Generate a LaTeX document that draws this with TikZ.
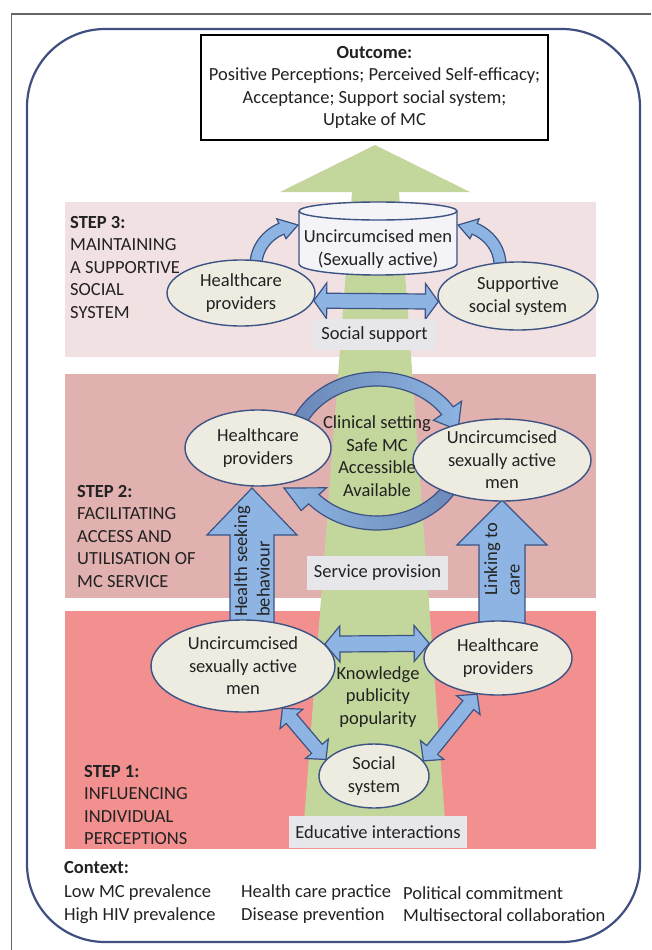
\documentclass[tikz,border=0pt]{standalone}
\usepackage{fontspec}
\setmainfont{Carlito}
\usetikzlibrary{shapes.geometric,calc}

\definecolor{frameblue}{HTML}{3F4F80}
\definecolor{bandthree}{HTML}{F2E1E2}
\definecolor{bandtwo}{HTML}{E0B1AF}
\definecolor{bandone}{HTML}{F28F8F}
\definecolor{leafgreen}{HTML}{C3D69B}
\definecolor{arrowblue}{HTML}{8DB4E2}
\definecolor{arrowdark}{HTML}{6A88B8}
\definecolor{edgeblue}{HTML}{3C5383}
\definecolor{cream}{HTML}{EEECE1}
\definecolor{labelgray}{HTML}{E7E6EB}
\definecolor{cylfill}{HTML}{F3F3F8}
\definecolor{ink}{HTML}{222222}

\tikzset{
  bubble/.style={ellipse, draw=edgeblue, line width=1.4pt, fill=cream, inner sep=0pt, align=center},
  blockarrow/.style={draw=edgeblue, line width=1.2pt, fill=arrowblue, line join=miter},
  tag/.style={fill=labelgray, inner sep=0pt},
  steptext/.style={anchor=west, align=left, inner sep=0pt},
}

% block arrows: #1 from, #2 to, #3 head length, #4 head half width, #5 shaft half width
\newcommand\dblarrow[5]{\draw[blockarrow] (#1) -- ($(#1)!#3!(#2)!#4!90:(#2)$) -- ($(#1)!#3!(#2)!#5!90:(#2)$)
  -- ($(#2)!#3!(#1)!#5!-90:(#1)$) -- ($(#2)!#3!(#1)!#4!-90:(#1)$) -- (#2)
  -- ($(#2)!#3!(#1)!#4!90:(#1)$) -- ($(#2)!#3!(#1)!#5!90:(#1)$)
  -- ($(#1)!#3!(#2)!#5!-90:(#2)$) -- ($(#1)!#3!(#2)!#4!-90:(#2)$) -- cycle;}
\newcommand\onearrow[5]{\draw[blockarrow] ($(#1)!#5!90:(#2)$) -- ($(#2)!#3!(#1)!#5!-90:(#1)$)
  -- ($(#2)!#3!(#1)!#4!-90:(#1)$) -- (#2) -- ($(#2)!#3!(#1)!#4!90:(#1)$)
  -- ($(#2)!#3!(#1)!#5!90:(#1)$) -- ($(#1)!#5!-90:(#2)$) -- cycle;}

\begin{document}
\begin{tikzpicture}[x=1pt,y=-1pt,font=\fontsize{18.5}{22.5}\selectfont,text=ink]
\useasboundingbox (0,0) rectangle (651,950);

% frame
\draw[line width=1.2pt,black!60] (11.7,950) -- (11.7,14) -- (651,14);
\draw[line width=2.2pt,frameblue,rounded corners=78pt] (27,29) rectangle (640,942);

\node[draw=black,line width=2pt,fill=white,minimum width=347pt,minimum height=105pt,align=center] (outcome) at (374.5,87.5)
  {\textbf{Outcome:}\\Positive Perceptions; Perceived Self-efficacy;\\Acceptance; Support social system;\\Uptake of MC};

% the three steps
\fill[bandthree] (65,202) rectangle (596,357);
\fill[bandtwo] (65,374) rectangle (596,598);
\fill[bandone] (65,611) rectangle (596,849);

\node[steptext] (step3) at (70,267) {\textbf{STEP 3:}\\MAINTAINING\\A SUPPORTIVE\\SOCIAL\\SYSTEM};
\node[steptext] (step2) at (77,536) {\textbf{STEP 2:}\\FACILITATING\\ACCESS AND\\UTILISATION OF\\MC SERVICE};
\node[steptext] (step1) at (84,805) {\textbf{STEP 1:}\\INFLUENCING\\INDIVIDUAL\\PERCEPTIONS};

\fill[leafgreen] (375,145) -- (470,192) -- (399,192) -- (447,848) -- (302,848) -- (352,192) -- (280,192) -- cycle;

% step 2 up arrows
\coordinate (hsFoot) at (252,632);
\coordinate (hsTip) at (252,488);
\coordinate (lcFoot) at (502,632);
\coordinate (lcTip) at (502,500);
\onearrow{hsFoot}{hsTip}{47pt}{45pt}{22pt}
\onearrow{lcFoot}{lcTip}{45pt}{45pt}{23pt}
\node[rotate=90,anchor=west,align=left,inner sep=0pt] (hsb) at (252,617) {Health seeking\\behaviour};
\node[rotate=90,anchor=west,align=left,inner sep=0pt] (ltc) at (502,596) {Linking to\\care};

% circular arrows round the clinical setting
\draw[blockarrow,left color=arrowdark,right color=arrowblue]
  plot[domain=155:34,samples=40] ({377+92*cos(\x)},{451-79*sin(\x)})
  -- ({377+102*cos(34)},{451-89*sin(34)}) -- (458,430) -- ({377+68*cos(34)},{451-55*sin(34)})
  -- plot[domain=34:155,samples=40] ({377+78*cos(\x)},{451-65*sin(\x)}) -- cycle;
\draw[blockarrow,left color=arrowblue,right color=arrowdark]
  plot[domain=-25:-138,samples=40] ({377+92*cos(\x)},{451-79*sin(\x)})
  -- ({377+102*cos(-138)},{451-89*sin(-138)}) -- (284,488) -- ({377+68*cos(-138)},{451-55*sin(-138)})
  -- plot[domain=-138:-25,samples=40] ({377+78*cos(\x)},{451-65*sin(\x)}) -- cycle;

% step 3 arrows up to the cylinder
\draw[blockarrow]
  plot[domain=185:115,samples=20] ({300+50*cos(\x)},{265-46*sin(\x)})
  -- ({300+55*cos(115)},{265-51*sin(115)}) -- (298,225) -- ({300+33*cos(115)},{265-29*sin(115)})
  -- plot[domain=115:185,samples=20] ({300+38*cos(\x)},{265-34*sin(\x)}) -- cycle;
\draw[blockarrow]
  plot[domain=-5:65,samples=20] ({456+50*cos(\x)},{265-46*sin(\x)})
  -- ({456+55*cos(65)},{265-51*sin(65)}) -- (458,225) -- ({456+33*cos(65)},{265-29*sin(65)})
  -- plot[domain=65:-5,samples=20] ({456+38*cos(\x)},{265-34*sin(\x)}) -- cycle;

\draw[draw=edgeblue,line width=1.4pt,fill=cylfill] (299,211) -- (299,264) arc[start angle=180,end angle=360,x radius=79pt,y radius=11pt]
  -- (457,211) arc[start angle=0,end angle=180,x radius=79pt,y radius=9pt] -- cycle;
\draw[draw=edgeblue,line width=1.4pt] (299,211) arc[start angle=180,end angle=360,x radius=79pt,y radius=9pt];
\node[align=center] (men3) at (378,249) {Uncircumcised men\\(Sexually active)};

% the actors
\node[bubble,minimum width=148pt,minimum height=66pt] (hp3) at (241,293) {Healthcare\\providers};
\node[bubble,minimum width=160pt,minimum height=68pt] (ss3) at (518,296) {Supportive\\social system};
\node[bubble,minimum width=146pt,minimum height=76pt] (hp2) at (258,448) {Healthcare\\providers};
\node[bubble,minimum width=178pt,minimum height=76pt] (um2) at (502,460) {Uncircumcised\\sexually active\\men};
\node[bubble,minimum width=184pt,minimum height=92pt] (um1) at (243,666) {Uncircumcised\\sexually active\\men};
\node[bubble,minimum width=148pt,minimum height=74pt] (hc1) at (498,658) {Healthcare\\providers};
\node[bubble,minimum width=110pt,minimum height=64pt] (ss1) at (374,776) {Social\\system};

\dblarrow{hp3.-6}{ss3.184}{13pt}{18pt}{7.5pt}
\dblarrow{um1.15}{hc1.168}{15pt}{18pt}{8pt}
\dblarrow{um1.-47}{ss1.161}{14pt}{15pt}{7pt}
\dblarrow{ss1.17}{hc1.-120}{14pt}{15pt}{7pt}

\node[align=center] (clinic) at (377,456) {Clinical setting\\Safe MC\\Accessible\\Available};
\node[align=center] (know) at (378,697) {Knowledge\\publicity\\popularity};

\node[tag,minimum width=123pt,minimum height=31pt] (socsup) at (374.5,334.5) {Social support};
\node[tag,minimum width=141pt,minimum height=34pt] (servprov) at (377.5,573) {Service provision};
\node[tag,minimum width=178pt,minimum height=32pt] (educ) at (378,832) {Educative interactions};

% context
\node[anchor=west,inner sep=0pt] (ctx) at (64,867) {\textbf{Context:}};
\node[steptext] (ctxa) at (64,904) {Low MC prevalence\\High HIV prevalence};
\node[steptext] (ctxb) at (241,904) {Health care practice\\Disease prevention};
\node[steptext] (ctxc) at (403,904) {Political commitment\\Multisectoral collaboration};
\end{tikzpicture}
\end{document}
